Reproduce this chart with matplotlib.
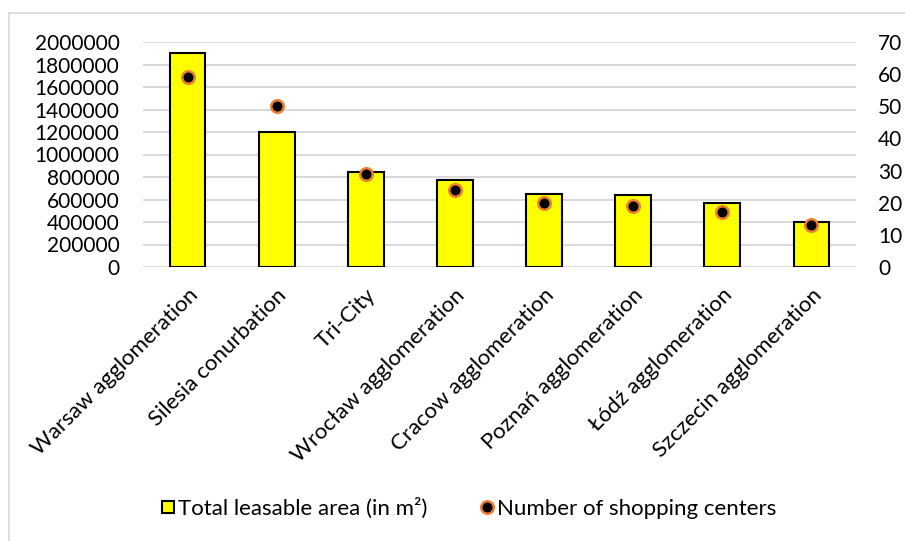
import matplotlib
matplotlib.use("Agg")
import matplotlib.pyplot as plt
from matplotlib.lines import Line2D

categories = ["Warsaw agglomeration", "Silesia conurbation", "Tri-City",
              "Wrocław agglomeration", "Cracow agglomeration", "Poznań agglomeration",
              "Łódź agglomeration", "Szczecin agglomeration"]
leasable_area = [1900000, 1200000, 845000, 770000, 650000, 640000, 570000, 400000]
shopping_centers = [59, 50, 29, 24, 20, 19, 17, 13]
area_ticks = list(range(0, 2000001, 200000))
count_ticks = list(range(0, 71, 10))

plt.rcParams['font.family'] = ['Lato', 'DejaVu Sans']

FS_TICK = 15
FS_TEXT = 16
fig = plt.figure(figsize=(9.05, 5.41), dpi=100)
ax = fig.add_axes([143 / 905, 1 - 267 / 541, (856 - 143) / 905, (267 - 42) / 541])
ax2 = ax.twinx()

x = list(range(len(categories)))
ax.bar(x, leasable_area, width=0.4, color="#ffff00", edgecolor="black", linewidth=1.5, zorder=3)
ax.set_xlim(-0.5, len(categories) - 0.5)
ax.set_ylim(0, 2000000)
ax.set_yticks(area_ticks)
ax.set_yticklabels([str(t) for t in area_ticks], fontsize=FS_TICK)
ax.grid(axis="y", color="#d9d9d9", linewidth=1.4, zorder=0)
ax.set_axisbelow(True)
ax.set_xticks(x)
ax.set_xticklabels(categories, rotation=45, ha="right", rotation_mode="anchor", fontsize=FS_TEXT)
ax.tick_params(axis="y", length=0, pad=17)
ax.tick_params(axis="x", length=0, pad=13)

ax2.plot(x, shopping_centers, linestyle="none", marker="o", markersize=9,
         markerfacecolor="black", markeredgecolor="#ed7d31", markeredgewidth=1.8, zorder=4)
ax2.set_ylim(0, 70)
ax2.set_yticks(count_ticks)
ax2.set_yticklabels([str(t) for t in count_ticks], fontsize=FS_TICK)
ax2.tick_params(length=0, pad=16)

for a in (ax, ax2):
    for s in a.spines.values():
        s.set_visible(False)

# light frame around the chart area (top and left edges)
fig.add_artist(Line2D([9 / 905, 1.0], [1 - 13 / 541, 1 - 13 / 541], transform=fig.transFigure,
                      color="#d9d9d9", linewidth=1.2))
fig.add_artist(Line2D([9 / 905, 9 / 905], [0.0, 1 - 13 / 541], transform=fig.transFigure,
                      color="#d9d9d9", linewidth=1.2))

handles = [
    Line2D([], [], linestyle="none", marker="s", markersize=9, markerfacecolor="#ffff00",
           markeredgecolor="black", markeredgewidth=1.5),
    Line2D([], [], linestyle="none", marker="o", markersize=9, markerfacecolor="black",
           markeredgecolor="#ed7d31", markeredgewidth=1.8),
]
fig.legend(handles, ["Total leasable area (in m²)", "Number of shopping centers"],
           loc="center", bbox_to_anchor=(468 / 905, 1 - 508 / 541), ncol=2, frameon=False,
           fontsize=FS_TEXT, handletextpad=0.05, columnspacing=2.3, handlelength=0.8)

fig.savefig("out.png", dpi=100)
